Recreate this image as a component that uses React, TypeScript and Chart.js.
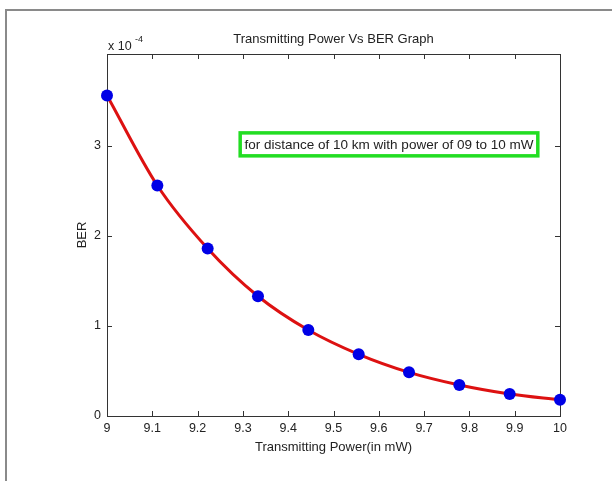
import React, { useEffect, useRef } from "react";
import { Chart, registerables } from "chart.js";

Chart.register(...registerables);

// Data (BER values in units of 1e-4)
const powerValues = [9, 9.1111, 9.2222, 9.3333, 9.4444, 9.5556, 9.6667, 9.7778, 9.8889, 10];
const berValues = [3.56, 2.56, 1.86, 1.33, 0.955, 0.685, 0.485, 0.345, 0.245, 0.18];
const xTicks = [9, 9.1, 9.2, 9.3, 9.4, 9.5, 9.6, 9.7, 9.8, 9.9, 10];
const yTicks = [0, 1, 2, 3];
const titleText = "Transmitting Power Vs BER Graph";
const xLabel = "Transmitting Power(in mW)";
const yLabel = "BER";
const noteText = "for distance of 10 km with power of 09 to 10 mW";

const FONT = "'Liberation Sans', Arial, Helvetica, sans-serif";

const decorPlugin = {
  id: "decor",
  beforeDraw(chart: any) {
    const ctx = chart.ctx;
    ctx.save();
    ctx.fillStyle = "#ffffff";
    ctx.fillRect(0, 0, chart.width, chart.height);
    ctx.strokeStyle = "#8a8a8a";
    ctx.lineWidth = 2;
    ctx.beginPath();
    ctx.moveTo(6, chart.height);
    ctx.lineTo(6, 10);
    ctx.lineTo(chart.width, 10);
    ctx.stroke();
    ctx.restore();
  },
  beforeDatasetsDraw(chart: any) {
    const ctx = chart.ctx;
    const { left, right, top, bottom } = chart.chartArea;
    const xs = chart.scales.x;
    const ys = chart.scales.y;
    ctx.save();
    ctx.strokeStyle = "#333333";
    ctx.lineWidth = 1;
    ctx.strokeRect(Math.round(left) + 0.5, Math.round(top) + 0.5, Math.round(right - left), Math.round(bottom - top));
    const tl = 5;
    ctx.beginPath();
    xTicks.forEach((v) => {
      const px = Math.round(xs.getPixelForValue(v)) + 0.5;
      ctx.moveTo(px, bottom);
      ctx.lineTo(px, bottom - tl);
      ctx.moveTo(px, top);
      ctx.lineTo(px, top + tl);
    });
    yTicks.forEach((v) => {
      const py = Math.round(ys.getPixelForValue(v)) + 0.5;
      ctx.moveTo(left, py);
      ctx.lineTo(left + tl, py);
      ctx.moveTo(right, py);
      ctx.lineTo(right - tl, py);
    });
    ctx.stroke();
    // exponent label
    ctx.fillStyle = "#222222";
    ctx.textBaseline = "alphabetic";
    ctx.textAlign = "left";
    ctx.font = `12.5px ${FONT}`;
    ctx.fillText("x 10", left + 1, top - 4);
    ctx.font = `9px ${FONT}`;
    ctx.fillText("-4", left + 28, top - 12);
    ctx.restore();
  },
  afterDatasetsDraw(chart: any) {
    const ctx = chart.ctx;
    const xs = chart.scales.x;
    const ys = chart.scales.y;
    const x0 = xs.getPixelForValue(9.294);
    const x1 = xs.getPixelForValue(9.951);
    const y0 = ys.getPixelForValue(3.144);
    const y1 = ys.getPixelForValue(2.889);
    ctx.save();
    ctx.fillStyle = "#ffffff";
    ctx.fillRect(x0, y0, x1 - x0, y1 - y0);
    ctx.strokeStyle = "#22dd22";
    ctx.lineWidth = 3.5;
    ctx.strokeRect(x0, y0, x1 - x0, y1 - y0);
    ctx.fillStyle = "#222222";
    ctx.font = `13.5px ${FONT}`;
    ctx.textAlign = "center";
    ctx.textBaseline = "middle";
    ctx.fillText(noteText, (x0 + x1) / 2, (y0 + y1) / 2 + 0.5);
    ctx.restore();
  },
};

export default function App() {
  const canvasRef = useRef<HTMLCanvasElement | null>(null);

  useEffect(() => {
    if (!canvasRef.current) return;
    const chart = new Chart(canvasRef.current, {
      type: "line",
      data: {
        datasets: [
          {
            data: powerValues.map((x, i) => ({ x, y: berValues[i] })),
            borderColor: "#dd1111",
            borderWidth: 3,
            backgroundColor: "#0000e6",
            pointBackgroundColor: "#0000e6",
            pointBorderColor: "#0000e6",
            pointRadius: 6,
            pointBorderWidth: 0,
            cubicInterpolationMode: "monotone",
            clip: false as any,
            fill: false,
          },
        ],
      },
      options: {
        animation: false,
        responsive: false,
        devicePixelRatio: 1,
        layout: { padding: { left: 0, top: 0, right: 52, bottom: 0 } },
        plugins: {
          legend: { display: false },
          tooltip: { enabled: false },
          title: {
            display: true,
            text: titleText,
            fullSize: false,
            color: "#222222",
            font: { family: FONT, size: 13, weight: "normal" },
            padding: { top: 32, bottom: 6.4 },
          },
        },
        scales: {
          x: {
            type: "linear",
            min: 9,
            max: 10,
            grid: { display: false, drawTicks: false },
            border: { display: false },
            afterBuildTicks: (s: any) => {
              s.ticks = xTicks.map((v) => ({ value: v }));
            },
            afterFit: (s: any) => {
              s.height = 65;
            },
            ticks: {
              color: "#222222",
              font: { family: FONT, size: 12.5 },
              padding: 5,
              maxRotation: 0,
              autoSkip: false,
              callback: (v: any) => String(Math.round(Number(v) * 10) / 10),
            },
            title: {
              display: true,
              text: xLabel,
              color: "#222222",
              font: { family: FONT, size: 13 },
              padding: { top: 0, bottom: 26 },
            },
          },
          y: {
            type: "linear",
            min: 0,
            max: 4.02,
            grid: { display: false, drawTicks: false },
            border: { display: false },
            afterBuildTicks: (s: any) => {
              s.ticks = yTicks.map((v) => ({ value: v }));
            },
            afterFit: (s: any) => {
              s.width = 107;
            },
            ticks: {
              color: "#222222",
              font: { family: FONT, size: 12.5 },
              padding: 6,
              callback: (v: any) => String(v),
            },
            title: {
              display: true,
              text: yLabel,
              color: "#222222",
              font: { family: FONT, size: 13 },
              padding: { top: 75, bottom: 0 },
            },
          },
        },
      },
      plugins: [decorPlugin],
    });
    return () => chart.destroy();
  }, []);

  return (
    <div style={{ position: "absolute", left: 0, top: 0, width: 612, height: 481, background: "#fff" }}>
      <canvas ref={canvasRef} width={612} height={481} style={{ display: "block" }} />
    </div>
  );
}
